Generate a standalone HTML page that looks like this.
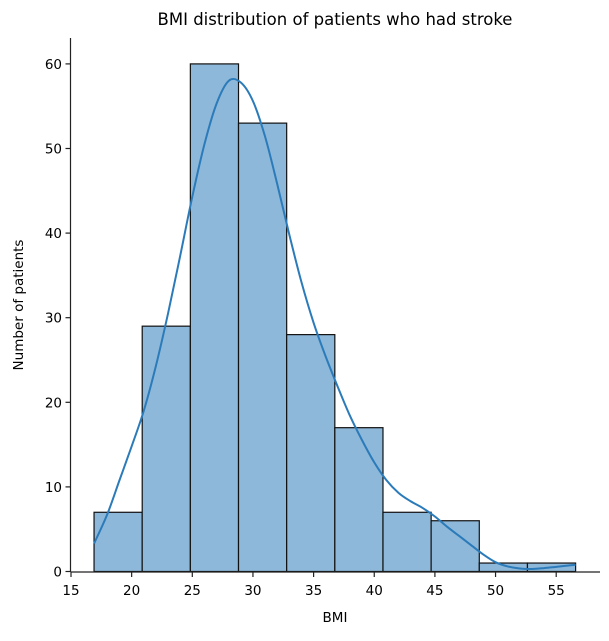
<!DOCTYPE html>
<html><head><meta charset="utf-8"><style>
body{margin:0;background:#fff;}
svg{font-family:"DejaVu Sans","Liberation Sans",sans-serif;}
</style></head><body>
<svg id="chart" width="609" height="636" xmlns="http://www.w3.org/2000/svg">
<text x="335" y="25" text-anchor="middle" font-size="16.5" fill="#000">BMI distribution of patients who had stroke</text>
<text x="335" y="622" text-anchor="middle" font-size="13.5" fill="#000">BMI</text>
<text transform="translate(23,305) rotate(-90)" text-anchor="middle" font-size="13.5" fill="#000">Number of patients</text>
<g id="bars"></g>
<path id="kde" fill="none" stroke="#2b7bba" stroke-width="2"/>
<g id="axes"></g>
</svg>
<script>
const binStart = 16.9;
const binWidth = 3.97;
const counts = [7, 29, 60, 53, 28, 17, 7, 6, 1, 1];
const kdeX = [16.9,18,19,20,21,22,23,24,25,26,27,28,29,30,31,32,33,34,35,36,37,38,39,40,41,42,43,44,45,46,47,48,49,50,51,52,53,54,55,56.6];
const kdeY = [3.3,6.8,10.8,14.8,19,24.3,30.5,37.3,44.3,50.5,55.3,58,57.8,55.6,51.4,45.8,39.8,34.2,29.4,25.4,21.8,18.4,15.5,12.9,10.8,9.3,8.3,7.5,6.5,5.3,4.2,3.1,2,1.1,0.6,0.35,0.3,0.4,0.55,0.8];
const xTicks = [15,20,25,30,35,40,45,50,55];
const yTicks = [0,10,20,30,40,50,60];

const ns = "http://www.w3.org/2000/svg";
const X = v => 71 + (v - 15) * 12.13;
const Y = v => 571.5 - v * 8.46;

const bars = document.getElementById('bars');
counts.forEach((c, i) => {
  const r = document.createElementNS(ns, 'rect');
  const x0 = X(binStart + i * binWidth), x1 = X(binStart + (i + 1) * binWidth);
  r.setAttribute('x', x0); r.setAttribute('width', x1 - x0);
  r.setAttribute('y', Y(c)); r.setAttribute('height', Y(0) - Y(c));
  r.setAttribute('fill', '#8db8d9'); r.setAttribute('stroke', '#111'); r.setAttribute('stroke-width', '1.2');
  
  
  bars.appendChild(r);
});

const pts = kdeX.map((v, i) => [X(v), Y(kdeY[i])]);
let d = `M${pts[0][0]},${pts[0][1]}`;
for (let i = 0; i < pts.length - 1; i++) {
  const p0 = pts[Math.max(i - 1, 0)], p1 = pts[i], p2 = pts[i + 1], p3 = pts[Math.min(i + 2, pts.length - 1)];
  const c1 = [p1[0] + (p2[0] - p0[0]) / 6, p1[1] + (p2[1] - p0[1]) / 6];
  const c2 = [p2[0] - (p3[0] - p1[0]) / 6, p2[1] - (p3[1] - p1[1]) / 6];
  d += ` C${c1[0]},${c1[1]} ${c2[0]},${c2[1]} ${p2[0]},${p2[1]}`;
}
document.getElementById('kde').setAttribute('d', d);

const axes = document.getElementById('axes');
function line(x1, y1, x2, y2, name) {
  const l = document.createElementNS(ns, 'line');
  l.setAttribute('x1', x1); l.setAttribute('y1', y1); l.setAttribute('x2', x2); l.setAttribute('y2', y2);
  l.setAttribute('stroke', '#222'); l.setAttribute('stroke-width', '1.2');
  
  
  axes.appendChild(l);
}
function text(x, y, s, anchor, name) {
  const t = document.createElementNS(ns, 'text');
  t.setAttribute('x', x); t.setAttribute('y', y); t.setAttribute('text-anchor', anchor);
  t.setAttribute('font-size', '13.5'); t.textContent = s;
  
  
  axes.appendChild(t);
}
line(70.5, 38, 70.5, 572, 'y-axis-line');
line(70.5, 572, 600, 572, 'x-axis-line');
xTicks.forEach(v => { line(X(v), 572, X(v), 577, 'x-tick'); text(X(v), 595, String(v), 'middle', 'x-tick-label'); });
yTicks.forEach(v => { line(65.5, Y(v), 70.5, Y(v), 'y-tick'); text(62, Y(v) + 5, String(v), 'end', 'y-tick-label'); });
</script>
</body></html>
